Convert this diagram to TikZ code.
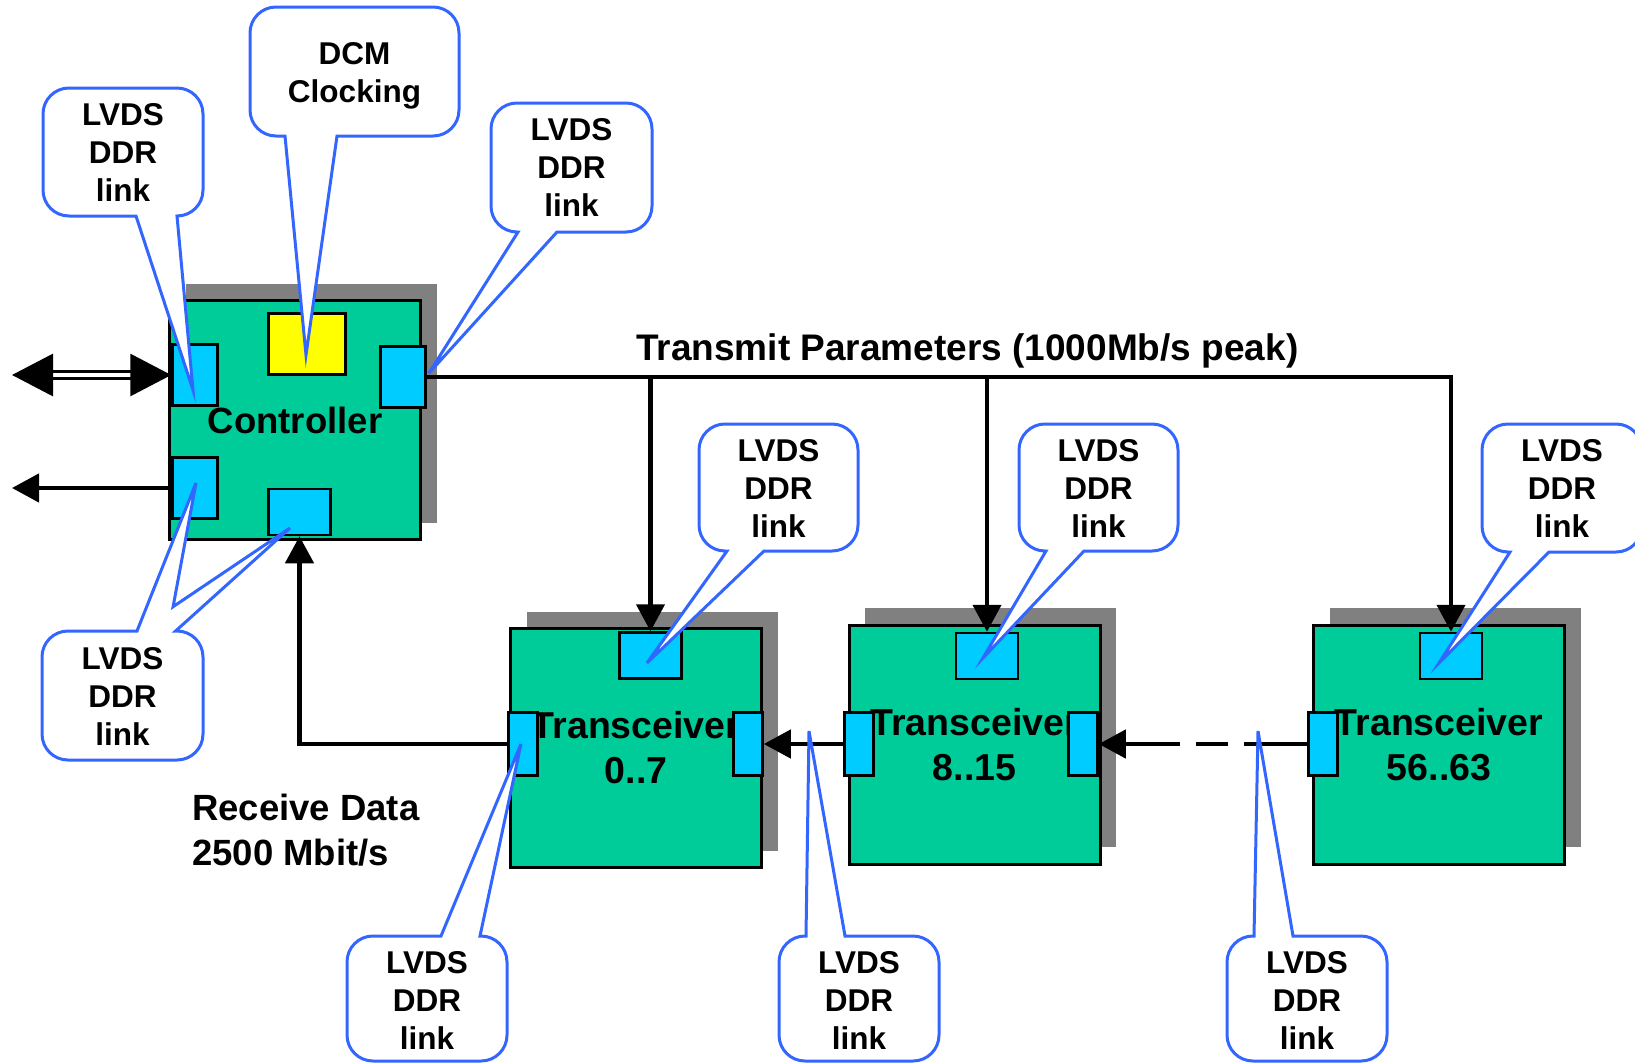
\documentclass[tikz,border=0pt]{standalone}
\usepackage{fontspec}
\setmainfont{Liberation Sans}
\usetikzlibrary{arrows.meta,shadows}

\definecolor{boardgreen}{HTML}{00CC99}
\definecolor{portcyan}{HTML}{00CCFF}
\definecolor{clockyellow}{HTML}{FFFF00}
\definecolor{shadegray}{HTML}{808080}
\definecolor{noteblue}{RGB}{51,102,255}

\newcommand\boardfont{\fontsize{36.5}{45}\selectfont\bfseries}
\newcommand\xcvrfont{\fontsize{37.5}{45}\selectfont\bfseries}
\newcommand\notefont{\fontsize{31.5}{38}\selectfont\bfseries}
\newcommand\busfont{\fontsize{37}{44}\selectfont\bfseries}

% corner radius of the callout boxes and the matching Bezier handle offset
\newcommand\cornerR{26}
\newcommand\cornerK{11.6}

% callout with its pointer leaving the bottom edge: L R T B a b px py
\newcommand\calloutdown[8]{%
  \draw[note] (#5,#4) -- (#7,#8) -- (#6,#4) -- ({#2-\cornerR},#4)
    .. controls ({#2-\cornerK},#4) and (#2,{#4-\cornerK}) .. (#2,{#4-\cornerR})
    -- (#2,{#3+\cornerR}) .. controls (#2,{#3+\cornerK}) and ({#2-\cornerK},#3) .. ({#2-\cornerR},#3)
    -- ({#1+\cornerR},#3) .. controls ({#1+\cornerK},#3) and (#1,{#3+\cornerK}) .. (#1,{#3+\cornerR})
    -- (#1,{#4-\cornerR}) .. controls (#1,{#4-\cornerK}) and ({#1+\cornerK},#4) .. ({#1+\cornerR},#4)
    -- cycle;}
% callout with its pointer leaving the top edge: L R T B a b px py
\newcommand\calloutup[8]{%
  \draw[note] (#5,#3) -- (#7,#8) -- (#6,#3) -- ({#2-\cornerR},#3)
    .. controls ({#2-\cornerK},#3) and (#2,{#3+\cornerK}) .. (#2,{#3+\cornerR})
    -- (#2,{#4-\cornerR}) .. controls (#2,{#4-\cornerK}) and ({#2-\cornerK},#4) .. ({#2-\cornerR},#4)
    -- ({#1+\cornerR},#4) .. controls ({#1+\cornerK},#4) and (#1,{#4-\cornerK}) .. (#1,{#4-\cornerR})
    -- (#1,{#3+\cornerR}) .. controls (#1,{#3+\cornerK}) and ({#1+\cornerK},#3) .. ({#1+\cornerR},#3)
    -- cycle;}

\tikzset{
  board/.style={draw=black, line width=3pt, fill=boardgreen, minimum width=251pt,
    minimum height=239pt, inner sep=0pt, align=center, font=\boardfont,
    general shadow={fill=shadegray, shadow xshift=16pt, shadow yshift=17pt}},
  xcvr/.style={board, font=\xcvrfont},
  port/.style={draw=black, line width=2.5pt, fill=portcyan, inner sep=0pt},
  portsq/.style={port, minimum width=45pt, minimum height=61pt},
  portwide/.style={port, minimum width=62pt, minimum height=46pt},
  portnarrow/.style={port, minimum width=29pt, minimum height=63pt},
  wire/.style={line width=4.5pt},
  >={Triangle[length=27pt,width=28pt]},
  note/.style={draw=noteblue, line width=3pt, fill=white},
  notetext/.style={font=\notefont, align=center, inner sep=0pt},
}

\begin{document}
\begin{tikzpicture}[x=1pt, y=-1pt]
\useasboundingbox (0,0) rectangle (1635,1063);
\fill[white] (0,0) rectangle (1635,1063);

% boards
\node[board] (ctrl) at (295,420) {Controller};
\node[xcvr] (tr0) at (636,748) {Transceiver\\0..7};
\node[xcvr] (tr8) at (974.5,744.5) {Transceiver\\8..15};
\node[xcvr] (tr56) at (1439,744.5) {Transceiver\\56..63};

% controller blocks
\node[portsq] (cpA) at (195,375) {};
\node[draw=black, line width=2.5pt, fill=clockyellow, inner sep=0pt,
      minimum width=77pt, minimum height=61pt] (dcm) at (307,344) {};
\node[portsq] (cpT) at (403,377) {};
\node[portsq] (cpC) at (195,488) {};
\node[portwide] (cpR) at (299.5,512) {};

% transceiver ports
\node[portwide] (t0top) at (650.5,655.5) {};
\node[portnarrow] (t0L) at (523,744) {};
\node[portnarrow] (t0R) at (748,744) {};
\node[portwide] (t8top) at (987,656) {};
\node[portnarrow] (t8L) at (859,744) {};
\node[portnarrow] (t8R) at (1083,744) {};
\node[portwide] (t56top) at (1451,656) {};
\node[portnarrow] (t56L) at (1323,744) {};

% outside connections of the controller
\coordinate (extA) at (12,375);
\coordinate (extC) at (12,488);
\draw[line width=3pt, double=white, double distance=4pt,
      {Triangle[length=41pt,width=42pt]}-{Triangle[length=41pt,width=42pt]}] (extA) -- (cpA.west);
\draw[wire, ->] (cpC.west) -- (extC);

% transmit bus
\draw[wire, ->] (cpT.east) -- (cpT.east -| t56top.north) -- (t56top.north);
\draw[wire, ->] (cpT.east -| t0top.north) -- (t0top.north);
\draw[wire, ->] (cpT.east -| t8top.north) -- (t8top.north);

% receive chain
\draw[wire, ->] (t0L.west) -| (cpR.south);
\draw[wire, ->] (t8L.west) -- (t0R.east);
\draw[wire, ->, dash pattern=on 63pt off 16pt on 32pt off 16pt on 300pt] (t56L.west) -- (t8R.east);

% labels
\node[anchor=base west, font=\busfont, inner sep=0pt] (txlbl) at (636,360) {Transmit Parameters (1000Mb/s peak)};
\node[anchor=west, align=left, font=\fontsize{36.5}{44.5}\selectfont\bfseries, inner sep=0pt] (rxlbl) at (192,830) {Receive Data\\2500 Mbit/s};

% callouts
\calloutdown{43}{203}{88}{216}{136}{177}{193}{390}
\node[notetext] (n1) at (123,152) {LVDS\\DDR\\link};
\calloutdown{250}{459}{7}{136}{285}{337}{306}{355}
\node[notetext] (n2) at (354.5,75.5) {DCM\\Clocking};
\calloutdown{491}{652}{103}{232}{518}{557}{429}{373}
\node[notetext] (n3) at (571.5,167.5) {LVDS\\DDR\\link};
\calloutdown{699}{858}{424}{551}{727}{764}{647}{663}
\node[notetext] (n4) at (778.5,488) {LVDS\\DDR\\link};
\calloutdown{1019}{1178}{424}{551}{1046}{1084}{983}{658}
\node[notetext] (n5) at (1098.5,488) {LVDS\\DDR\\link};
\calloutdown{1482}{1642}{424}{552}{1510}{1549}{1439}{663}
\node[notetext] (n6) at (1562,488) {LVDS\\DDR\\link};

% callout with two pointers, to both lower controller ports
\draw[note] (137,631) -- (196,483) -- (173.1,606.7) -- (290,528) -- (175.6,631)
  -- ({203-\cornerR},631) .. controls ({203-\cornerK},631) and (203,{631+\cornerK}) .. (203,{631+\cornerR})
  -- (203,{760-\cornerR}) .. controls (203,{760-\cornerK}) and ({203-\cornerK},760) .. ({203-\cornerR},760)
  -- ({42+\cornerR},760) .. controls ({42+\cornerK},760) and (42,{760-\cornerK}) .. (42,{760-\cornerR})
  -- (42,{631+\cornerR}) .. controls (42,{631+\cornerK}) and ({42+\cornerK},631) .. ({42+\cornerR},631)
  -- cycle;
\node[notetext] (n7) at (122.5,696) {LVDS\\DDR\\link};

\calloutup{347}{507}{936}{1061}{441}{480}{521}{744}
\node[notetext] (n8) at (427,1000) {LVDS\\DDR\\link};
\calloutup{779}{939}{936}{1061}{806}{845}{809}{731}
\node[notetext] (n9) at (859,1000) {LVDS\\DDR\\link};
\calloutup{1227}{1387}{936}{1061}{1254}{1293}{1258}{731}
\node[notetext] (n10) at (1307,1000) {LVDS\\DDR\\link};
\end{tikzpicture}
\end{document}
